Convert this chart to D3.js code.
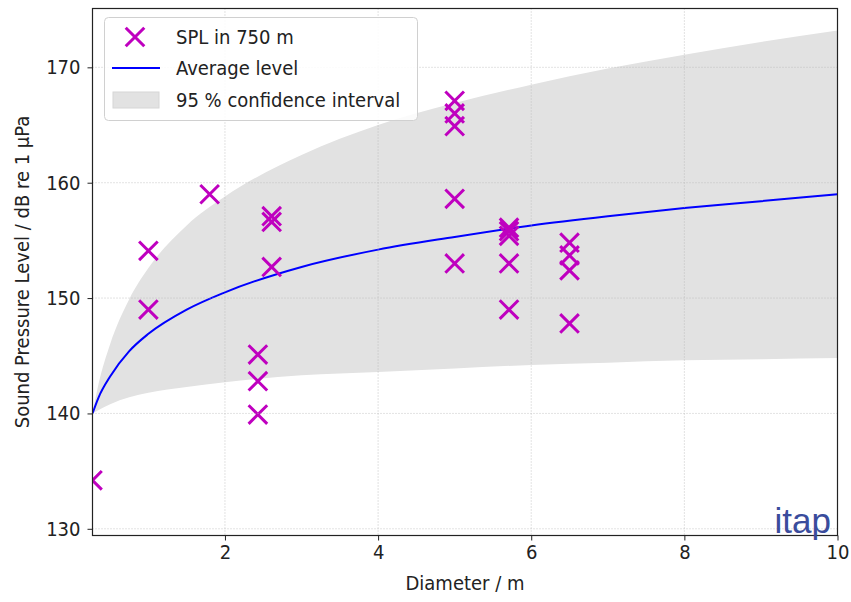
<!DOCTYPE html>
<html><head><meta charset="utf-8">
<script src="https://cdn.jsdelivr.net/npm/d3@7"></script>
<style>
body{margin:0;background:#fff;}
svg{display:block;}
text{font-family:"DejaVu Sans Condensed","Liberation Sans Narrow","DejaVu Sans",sans-serif;}
</style></head>
<body>
<svg id="chart" width="851" height="602"></svg>
<script>
// measured points: diameter (m) and SPL in 750 m (dB)
const pointD   = [0.27, 1.0, 1.0, 1.8, 2.43, 2.43, 2.43, 2.61, 2.61, 2.61, 5.0, 5.0, 5.0, 5.0, 5.0, 5.71, 5.71, 5.71, 5.71, 5.71, 6.5, 6.5, 6.5, 6.5];
const pointSPL = [134.2, 154.1, 149.0, 159.0, 145.1, 142.8, 139.9, 157.1, 156.6, 152.7, 167.1, 166.0, 164.9, 158.6, 153.0, 156.1, 155.8, 155.4, 153.0, 149.0, 154.8, 153.7, 152.4, 147.8];
// average level curve and 95 % confidence interval
const curveD     = [0.27, 0.35, 0.5, 0.75, 1.0, 1.5, 2, 3, 4, 5, 6, 7, 8, 9, 10];
const curveMean  = [140.0, 141.4, 143.2, 145.4, 146.9, 149.0, 150.5, 152.7, 154.2, 155.3, 156.3, 157.1, 157.8, 158.4, 159.0];
const curveLower = [140.0, 140.3, 140.8, 141.4, 141.8, 142.3, 142.7, 143.3, 143.6, 143.9, 144.2, 144.4, 144.6, 144.7, 144.8];
const curveUpper = [140.0, 142.6, 146.0, 149.9, 152.6, 156.3, 158.8, 162.4, 165.0, 166.9, 168.5, 169.9, 171.1, 172.2, 173.2];
const xTicks = [2, 4, 6, 8, 10];
const yTicks = [130, 140, 150, 160, 170];
const legendLabels = ["SPL in 750 m", "Average level", "95 % confidence interval"];

const svg = d3.select("#chart");
const L = 92.5, R = 837.5, T = 8.5, B = 535.5;
const x = d3.scaleLinear().domain([0.27, 10]).range([L, R]);
const y = d3.scaleLinear().domain([129.42, 175.1]).range([B, T]);

svg.append("defs").append("clipPath").attr("id","clip")
  .append("rect").attr("x",L).attr("y",T).attr("width",R-L).attr("height",B-T);

const plot = svg.append("g").attr("clip-path","url(#clip)");

const band = curveD.map((d,i)=>({d, lo:curveLower[i], hi:curveUpper[i], m:curveMean[i]}));
plot.append("path").datum(band)
  .attr("fill","#e2e2e2")
  .attr("d", d3.area().x(p=>x(p.d)).y0(p=>y(p.lo)).y1(p=>y(p.hi)).curve(d3.curveMonotoneX));

// grid
const grid = svg.append("g").attr("stroke","#b8b8b8").attr("stroke-width",0.8).attr("stroke-dasharray","1,2");
xTicks.forEach(t=>grid.append("line").attr("x1",x(t)).attr("x2",x(t)).attr("y1",T).attr("y2",B));
yTicks.forEach(t=>grid.append("line").attr("x1",L).attr("x2",R).attr("y1",y(t)).attr("y2",y(t)));

plot.append("path").datum(band)
  .attr("fill","none").attr("stroke","#0000ff").attr("stroke-width",2)
  .attr("d", d3.line().x(p=>x(p.d)).y(p=>y(p.m)).curve(d3.curveMonotoneX));

const s = 9.3;
const crossPath = `M${-s},${-s}L${s},${s}M${-s},${s}L${s},${-s}`;
plot.selectAll("path.pt").data(pointD.map((d,i)=>({d, v:pointSPL[i]})))
  .enter().append("path").attr("class","pt")
  .attr("transform", p=>`translate(${x(p.d)},${y(p.v)})`)
  .attr("d", crossPath).attr("stroke","#bf00bf").attr("stroke-width",3).attr("fill","none");

// axes
const xAxis = d3.axisBottom(x).tickValues(xTicks).tickSize(5).tickPadding(4).tickFormat(d3.format("d"));
const yAxis = d3.axisLeft(y).tickValues(yTicks).tickSize(5).tickPadding(7).tickFormat(d3.format("d"));
const gx = svg.append("g").attr("transform",`translate(0,${B})`).call(xAxis);
const gy = svg.append("g").attr("transform",`translate(${L},0)`).call(yAxis);
[gx,gy].forEach(g=>{
  g.select(".domain").remove();
  g.selectAll(".tick line").attr("stroke","#222").attr("stroke-width",1);
  g.selectAll(".tick text").attr("fill","#222").style("font-size","20px");
});
svg.append("rect").attr("x",L).attr("y",T).attr("width",R-L).attr("height",B-T)
  .attr("fill","none").attr("stroke","#222").attr("stroke-width",1.2);

svg.append("text").attr("x",(L+R)/2).attr("y",590).attr("text-anchor","middle")
  .attr("fill","#222").style("font-size","20px").text("Diameter / m");
svg.append("text").attr("transform",`translate(29,${(T+B)/2}) rotate(-90)`).attr("text-anchor","middle")
  .attr("fill","#222").style("font-size","20px").text("Sound Pressure Level / dB re 1 µPa");

svg.append("text").attr("x",831).attr("y",533).attr("text-anchor","end")
  .attr("fill","#3a4c9c").style("font-size","35px").style("font-family","'Liberation Sans',Arial,sans-serif").text("itap");

// legend
const lg = svg.append("g");
lg.append("rect").attr("x",104.5).attr("y",17.5).attr("width",313).attr("height",103).attr("rx",4)
  .attr("fill","#fff").attr("fill-opacity",0.85).attr("stroke","#d0d0d0");
lg.append("path").attr("transform","translate(135,37)").attr("d",crossPath)
  .attr("stroke","#bf00bf").attr("stroke-width",3).attr("fill","none");
lg.append("line").attr("x1",112).attr("x2",160).attr("y1",68).attr("y2",68).attr("stroke","#0000ff").attr("stroke-width",2);
lg.append("rect").attr("x",113).attr("y",92).attr("width",46).attr("height",16).attr("fill","#e2e2e2").attr("stroke","#d6d6d6");
legendLabels.forEach((t,i)=>{
  lg.append("text").attr("x",176).attr("y",[37,68,100][i]).attr("dy","0.35em")
    .attr("fill","#222").style("font-size","20px").text(t);
});
</script>
</body></html>
